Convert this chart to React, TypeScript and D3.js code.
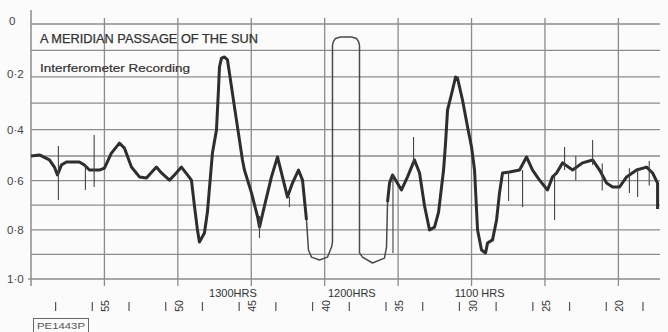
import React from "react";
import * as d3 from "d3";

// x in chart divisions (vertical grid lines at 1..8), y = recorded value (0 top .. 1 bottom)
const traceX = [
  0, 0.114, 0.251, 0.319, 0.36, 0.414, 0.482, 0.659, 0.728, 0.796, 0.932, 1.0, 1.095, 1.204, 1.272,
  1.368, 1.477, 1.572, 1.708, 1.777, 1.886, 1.954, 2.049, 2.131, 2.185, 2.226, 2.267, 2.294, 2.362,
  2.403, 2.471, 2.526, 2.553, 2.567, 2.594, 2.635, 2.676, 2.703, 2.771, 2.839, 2.88, 2.907, 3.003,
  3.084, 3.112, 3.18, 3.275, 3.357, 3.425, 3.493, 3.561, 3.643, 3.698, 3.752, 3.779, 3.82, 3.929,
  4.038, 4.093, 4.106, 4.106, 4.12, 4.147, 4.215, 4.365, 4.433, 4.46, 4.474, 4.474, 4.515, 4.651,
  4.814, 4.842, 4.856, 4.883, 4.924, 5.046, 5.128, 5.223, 5.292, 5.36, 5.428, 5.496, 5.551, 5.619,
  5.646, 5.673, 5.741, 5.782, 5.809, 5.877, 5.946, 6.0, 6.041, 6.082, 6.136, 6.191, 6.218, 6.286,
  6.341, 6.381, 6.422, 6.518, 6.654, 6.749, 6.831, 6.926, 7.035, 7.103, 7.158, 7.24, 7.376, 7.512,
  7.649, 7.744, 7.839, 7.921, 8.016, 8.112, 8.248, 8.384, 8.466, 8.534, 8.534,
];
const traceY = [
  0.5, 0.496, 0.516, 0.545, 0.577, 0.537, 0.524, 0.524, 0.537, 0.557, 0.557, 0.549, 0.489, 0.451, 0.47,
  0.545, 0.585, 0.589, 0.545, 0.569, 0.598, 0.577, 0.545, 0.577, 0.598, 0.703, 0.801, 0.85, 0.813,
  0.728, 0.489, 0.402, 0.25, 0.163, 0.129, 0.125, 0.136, 0.186, 0.314, 0.439, 0.516, 0.557, 0.65,
  0.744, 0.789, 0.703, 0.585, 0.504, 0.585, 0.667, 0.61, 0.557, 0.598, 0.76, 0.882, 0.911, 0.923,
  0.911, 0.87, 0.85, 0.08, 0.066, 0.055, 0.049, 0.049, 0.055, 0.066, 0.08, 0.894, 0.911, 0.935,
  0.915, 0.87, 0.687, 0.61, 0.577, 0.638, 0.585, 0.516, 0.569, 0.703, 0.801, 0.789, 0.728, 0.557,
  0.451, 0.326, 0.25, 0.201, 0.205, 0.288, 0.39, 0.466, 0.557, 0.801, 0.882, 0.894, 0.854, 0.841,
  0.76, 0.65, 0.569, 0.565, 0.557, 0.504, 0.557, 0.598, 0.638, 0.585, 0.569, 0.528, 0.557, 0.528,
  0.516, 0.557, 0.61, 0.626, 0.626, 0.585, 0.557, 0.545, 0.569, 0.61, 0.715,
];

// short pen spikes: position, from value, to value
const spikeX = [0.373, 0.741, 0.86, 3.112, 3.52, 4.93, 5.21, 6.504, 6.695, 7.131, 7.267, 7.42, 7.649, 7.78, 8.15, 8.262, 8.42];
const spikeFrom = [0.462, 0.537, 0.42, 0.744, 0.667, 0.577, 0.428, 0.565, 0.557, 0.577, 0.466, 0.5, 0.439, 0.53, 0.55, 0.557, 0.52];
const spikeTo = [0.679, 0.638, 0.626, 0.833, 0.707, 0.894, 0.537, 0.683, 0.707, 0.76, 0.557, 0.6, 0.537, 0.64, 0.65, 0.667, 0.62];

const yTicks = [0, 0.2, 0.4, 0.6, 0.8, 1.0];
const yTickLabels = ["0", "0·2", "0·4", "0·6", "0·8", "1·0"];
const minuteLabels = ["55", "50", "45", "40", "35", "30", "25", "20"];
const hourLabels = ["1300HRS", "1200HRS", "1100 HRS"];
const hourPos = [2.75, 4.37, 6.11];
const title = "A MERIDIAN PASSAGE OF THE SUN";
const subtitle = "Interferometer Recording";
const plateRef = "PE1443P";

export default function App() {
  const W = 668;
  const H = 332;
  const x = d3.scaleLinear().domain([0, 8.56]).range([31, 659.5]);
  const y = d3.scaleLinear().domain([0, 0.5, 1]).range([24, 156, 279]);

  const pts: [number, number][] = traceX.map((d, i) => [d, traceY[i]]);
  const line = d3
    .line<[number, number]>()
    .x((d) => x(d[0]))
    .y((d) => y(d[1]));
  const thick = d3
    .line<[number, number]>()
    .defined((d) => d[0] < 3.76 || d[0] > 4.85)
    .x((d) => x(d[0]))
    .y((d) => y(d[1]));

  const hGrid = d3.range(0, 1.0001, 0.1);
  const vGrid = d3.range(1, 9);
  const minorTicks = d3.range(0.335, 8.5, 0.5);
  const font = "'Liberation Sans', Arial, sans-serif";
  const grid = "#8c8c8c";
  const ink = "#333";

  return (
    <svg
      width={W}
      height={H}
      style={{ position: "fixed", left: 0, top: 0, background: "#fbfbfb" }}
      fontFamily={font}
    >
      <rect width={W} height={H} fill="#fbfbfb" />
      {hGrid.map((v, i) => (
        <line key={"h" + i} x1={x(0)} x2={660} y1={y(v)} y2={y(v)} stroke={grid} strokeWidth={1.3} />
      ))}
      {vGrid.map((g) => (
        <line key={"v" + g} x1={x(g)} x2={x(g)} y1={18} y2={286} stroke={grid} strokeWidth={1.3} />
      ))}
      <line x1={x(0)} x2={x(0)} y1={10} y2={286} stroke={grid} strokeWidth={1.5} />
      <line x1={x(0) - 3} x2={x(0)} y1={y(1)} y2={y(1)} stroke={grid} strokeWidth={1.3} />

      {yTicks.map((v, i) => (
        <text
          key={"yl" + i}
          x={i === 0 ? 9 : 7}
          y={y(v) - (v < 0.3 ? 3 : 0)}
          dominantBaseline="central"
          fontSize={11.5}
          fill="#444"
        >
          {yTickLabels[i]}
        </text>
      ))}

      <text x={40} y={43} fontSize={12} fill={ink} stroke={ink} strokeWidth={0.25} textLength={218} lengthAdjust="spacingAndGlyphs">
        {title}
      </text>
      <text x={40} y={72} fontSize={11.5} fill={ink} stroke={ink} strokeWidth={0.2} textLength={150} lengthAdjust="spacingAndGlyphs">
        {subtitle}
      </text>

      <path d={line(pts) || ""} fill="none" stroke="#4a4a4a" strokeWidth={1.5} strokeLinejoin="round" />
      <path d={thick(pts) || ""} fill="none" stroke="#2e2e2e" strokeWidth={3} strokeLinejoin="round" />
      {spikeX.map((s, i) => (
        <line
          key={"s" + i}
          x1={x(s)}
          x2={x(s)}
          y1={y(spikeFrom[i])}
          y2={y(spikeTo[i])}
          stroke="#444"
          strokeWidth={1.1}
        />
      ))}

      {hourLabels.map((t, i) => (
        <text key={"hr" + i} x={x(hourPos[i])} y={297} textAnchor="middle" fontSize={11} fill={ink}>
          {t}
        </text>
      ))}
      {minorTicks.map((t, i) => (
        <line key={"mt" + i} x1={x(t)} x2={x(t)} y1={302} y2={311} stroke="#555" strokeWidth={1.2} />
      ))}
      {minuteLabels.map((t, i) => (
        <text
          key={"ml" + i}
          transform={`translate(${x(i + 1) + 1},${306}) rotate(-90)`}
          textAnchor="middle"
          dominantBaseline="central"
          fontSize={10.5}
          fill={ink}
        >
          {t}
        </text>
      ))}

      <rect x={33.5} y={318.5} width={55} height={16} fill="none" stroke="#666" strokeWidth={1} />
      <text x={37} y={329} fontSize={9} fill="#555" textLength={48} lengthAdjust="spacingAndGlyphs">
        {plateRef}
      </text>
    </svg>
  );
}
